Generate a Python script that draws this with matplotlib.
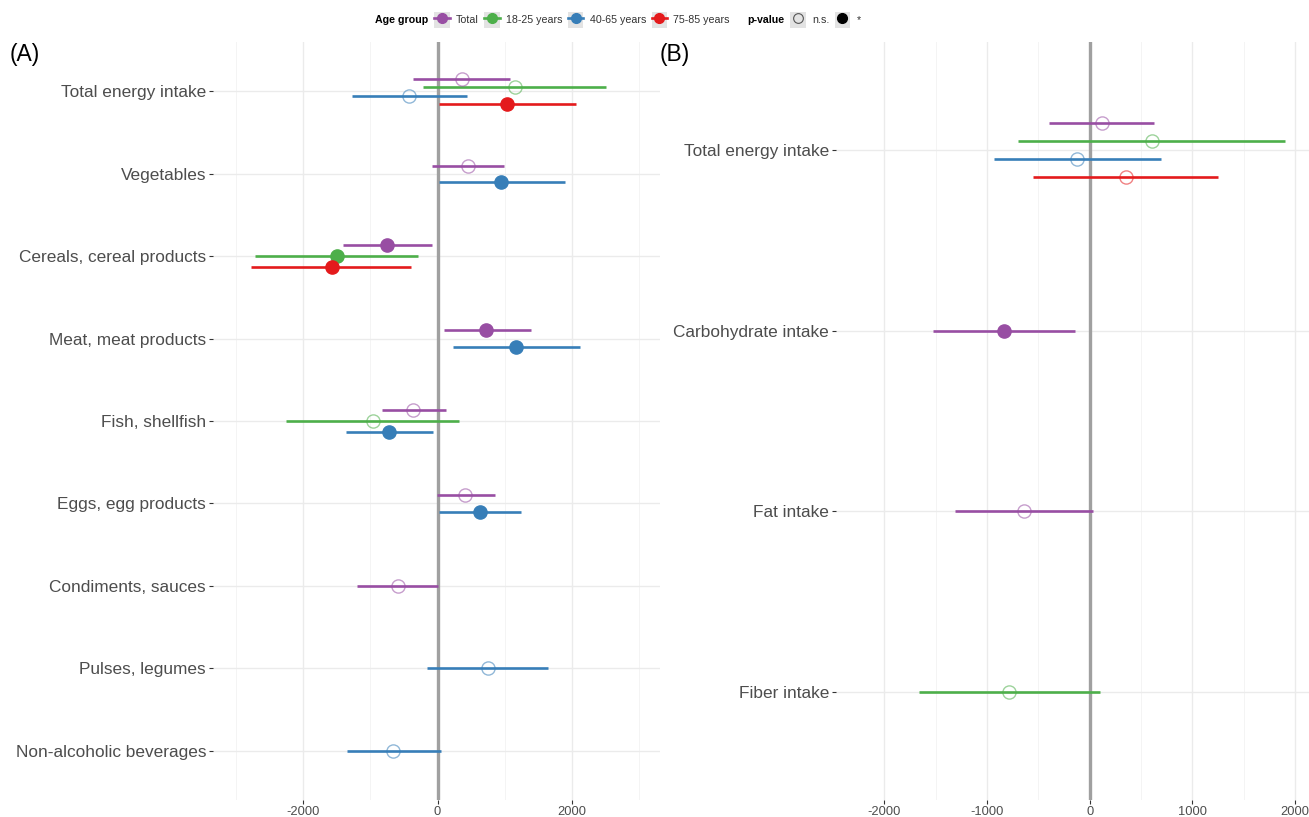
import matplotlib
matplotlib.use('Agg')
import matplotlib.pyplot as plt
from matplotlib.lines import Line2D
from matplotlib.patches import Rectangle
from matplotlib.legend_handler import HandlerTuple
from matplotlib.ticker import MultipleLocator

plt.rcParams['font.family'] = ['Liberation Sans', 'DejaVu Sans']
plt.rcParams['axes.unicode_minus'] = False

GROUPS = ['Total', '18-25 years', '40-65 years', '75-85 years']
COLORS = {'Total': '#984EA3', '18-25 years': '#4DAF4A',
          '40-65 years': '#377EB8', '75-85 years': '#E41A1C'}

# Panel A: food groups
A_CATS = ['Total energy intake', 'Vegetables', 'Cereals, cereal products',
          'Meat, meat products', 'Fish, shellfish', 'Eggs, egg products',
          'Condiments, sauces', 'Pulses, legumes', 'Non-alcoholic beverages']
A_CAT = ['Total energy intake'] * 4 + ['Vegetables'] * 2 + ['Cereals, cereal products'] * 3 + \
        ['Meat, meat products'] * 2 + ['Fish, shellfish'] * 3 + ['Eggs, egg products'] * 2 + \
        ['Condiments, sauces', 'Pulses, legumes', 'Non-alcoholic beverages']
A_GROUP = ['Total', '18-25 years', '40-65 years', '75-85 years',
           'Total', '40-65 years',
           'Total', '18-25 years', '75-85 years',
           'Total', '40-65 years',
           'Total', '18-25 years', '40-65 years',
           'Total', '40-65 years',
           'Total', '40-65 years', '40-65 years']
A_EST = [357, 1149, -422, 1041, 455, 951, -744, -1502, -1577, 728, 1174,
         -363, -967, -724, 416, 639, -595, 753, -660]
A_LO = [-363, -214, -1279, 24, -89, 24, -1413, -2717, -2776, 94, 232,
        -833, -2256, -1368, -15, 24, -1205, -149, -1353]
A_HI = [1075, 2513, 446, 2067, 991, 1893, -80, -288, -387, 1387, 2116,
        119, 322, -74, 852, 1249, 10, 1645, 45]
A_SIG = [0, 0, 0, 1, 0, 1, 1, 1, 1, 1, 1, 0, 0, 1, 0, 1, 0, 0, 0]

# Panel B: nutrients
B_CATS = ['Total energy intake', 'Carbohydrate intake', 'Fat intake', 'Fiber intake']
B_CAT = ['Total energy intake'] * 4 + ['Carbohydrate intake', 'Fat intake', 'Fiber intake']
B_GROUP = ['Total', '18-25 years', '40-65 years', '75-85 years',
           'Total', 'Total', '18-25 years']
B_EST = [117, 604, -124, 353, -837, -640, -783]
B_LO = [-396, -695, -932, -549, -1527, -1308, -1659]
B_HI = [629, 1902, 694, 1252, -146, 29, 100]
B_SIG = [0, 0, 0, 0, 1, 0, 0]

W, H = 1309, 817
fig = plt.figure(figsize=(W / 100, H / 100), dpi=100)


def forest(ax, cats, cat, group, est, lo, hi, sig, xlim, major, minor):
    ax.set_xlim(*xlim)
    ax.set_ylim(len(cats) + 0.6, 0.4)
    ax.set_axisbelow(True)
    for s in ax.spines.values():
        s.set_visible(False)
    ax.xaxis.set_major_locator(MultipleLocator(major))
    ax.xaxis.set_minor_locator(MultipleLocator(minor))
    ax.set_yticks(range(1, len(cats) + 1))
    ax.set_yticklabels(cats)
    ax.grid(True, which='major', color='#EBEBEB', lw=1.0)
    ax.grid(True, which='minor', axis='x', color='#F4F4F4', lw=0.7)
    ax.tick_params(axis='y', which='major', length=3, width=0.8, color='#333333',
                   labelsize=12.4, labelcolor='#4D4D4D', pad=2)
    ax.tick_params(axis='x', which='major', length=3, width=0.8, color='#333333',
                   labelsize=9.3, labelcolor='#4D4D4D', pad=1)
    ax.tick_params(axis='x', which='minor', length=0)
    ax.axvline(0, color='#A0A0A0', lw=2.4, zorder=1.8)

    for c_i, c in enumerate(cats):
        rows = [i for i in range(len(cat)) if cat[i] == c]
        n = len(rows)
        for k, i in enumerate(rows):
            y = c_i + 1 + (k - (n - 1) / 2) * 0.4 / n
            col = COLORS[group[i]]
            ax.plot([lo[i], hi[i]], [y, y], color=col, lw=1.9, solid_capstyle='butt', zorder=2)
            if sig[i]:
                ax.plot(est[i], y, 'o', ms=9.5, color=col, mec=col, zorder=3)
            else:
                ax.plot(est[i], y, 'o', ms=9.5, mfc='none', mec=col, mew=1.0,
                        alpha=0.55, zorder=3)


axA = fig.add_axes([213 / W, 1 - 800 / H, 447 / W, 758 / H])
forest(axA, A_CATS, A_CAT, A_GROUP, A_EST, A_LO, A_HI, A_SIG, (-3340, 3310), 2000, 1000)
axB = fig.add_axes([836 / W, 1 - 800 / H, 473 / W, 758 / H])
forest(axB, B_CATS, B_CAT, B_GROUP, B_EST, B_LO, B_HI, B_SIG, (-2470, 2135), 1000, 500)

fig.text(10 / W, 1 - 55 / H, '(A)', fontsize=16.5, va='center', ha='left')
fig.text(660 / W, 1 - 55 / H, '(B)', fontsize=16.5, va='center', ha='left')

# legend at the top
key_bg = '#E3E3E3'
ly = 1 - 20 / H
fig.text(375 / W, ly, 'Age group', fontsize=7.7, fontweight='bold', va='center', ha='left')
age_handles = [(Rectangle((0, 0), 1, 1, fc=key_bg, ec='none'),
                Line2D([], [], color=COLORS[g], lw=1.9, marker='o', ms=7))
               for g in GROUPS]
leg1 = fig.legend(age_handles, GROUPS, handler_map={tuple: HandlerTuple(ndivide=1)},
                  loc='center left', bbox_to_anchor=(434 / W, ly), ncol=4, frameon=False,
                  fontsize=7.7, handlelength=1.45, handleheight=1.9, handletextpad=0.6,
                  columnspacing=0.5, borderpad=0, borderaxespad=0)
for t in leg1.get_texts():
    t.set_color('#333333')

fig.text(747 / W, ly, 'p-value', fontsize=7.7, fontweight='bold', va='center', ha='left')
p_handles = [(Rectangle((0, 0), 1, 1, fc=key_bg, ec='none'),
              Line2D([], [], ls='none', marker='o', ms=7, mfc='none', mec='#555555', mew=0.8)),
             (Rectangle((0, 0), 1, 1, fc=key_bg, ec='none'),
              Line2D([], [], ls='none', marker='o', ms=7, color='black'))]
leg2 = fig.legend(p_handles, ['n.s.', '*'], handler_map={tuple: HandlerTuple(ndivide=1)},
                  loc='center left', bbox_to_anchor=(790 / W, ly), ncol=2, frameon=False,
                  fontsize=7.7, handlelength=1.45, handleheight=1.9, handletextpad=0.6,
                  columnspacing=0.5, borderpad=0, borderaxespad=0)
for t in leg2.get_texts():
    t.set_color('#333333')

fig.savefig('out.png', dpi=100)
